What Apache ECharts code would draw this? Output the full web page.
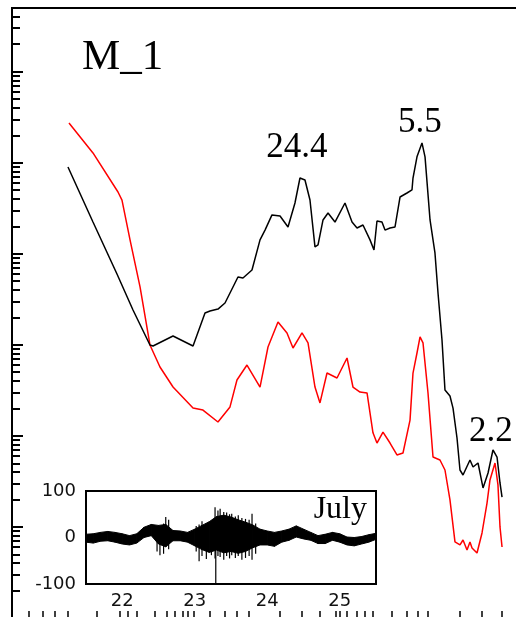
<!DOCTYPE html>
<html>
<head>
<meta charset="utf-8">
<script src="https://cdn.jsdelivr.net/npm/echarts@6/dist/echarts.min.js"></script>
<style>
  html, body { margin: 0; padding: 0; background: #fff; }
  #chart { width: 516px; height: 617px; }
</style>
</head>
<body>
<div id="chart"></div>
<script>
// ---- main panel: time in days (July), log-scaled amplitude ----
const blackDays = [21.272, 21.617, 21.948, 22.169, 22.403, 22.445, 22.721, 22.997, 23.162, 23.231,
  23.341, 23.438, 23.617, 23.686, 23.810, 23.921, 23.990, 24.086, 24.197, 24.307,
  24.403, 24.472, 24.541, 24.610, 24.679, 24.721, 24.790, 24.859, 24.955, 25.093,
  25.190, 25.259, 25.341, 25.438, 25.493, 25.534, 25.603, 25.645, 25.714, 25.783,
  25.852, 25.948, 26.017, 26.031, 26.086, 26.155, 26.197, 26.266, 26.334, 26.376,
  26.431, 26.472, 26.541, 26.583, 26.638, 26.679, 26.721, 26.817, 26.859, 26.928,
  26.997, 27.066, 27.134, 27.190, 27.231, 27.259];
const blackValues = [8970, 2230, 600, 241, 99.6, 97.1, 125, 97.1, 224, 235,
  247, 288, 556, 542, 663, 1420, 1820, 2670, 2600, 1970,
  3610, 6790, 6460, 3890, 1190, 1250, 2350, 2800, 2230, 3610,
  2230, 1920, 2070, 1420, 1100, 2290, 2230, 1820, 1920, 1970,
  4200, 4650, 5020, 6790, 11600, 16500, 11600, 2350, 1020, 371,
  113, 31.9, 27.4, 20.2, 9.48, 4.22, 3.72, 5.43, 4.55, 5.04,
  2.68, 3.91, 7.00, 5.86, 3.04, 2.13];

const redDays = [21.286, 21.617, 21.962, 22.017, 22.128, 22.266, 22.403, 22.541, 22.721, 22.997,
  23.134, 23.341, 23.507, 23.603, 23.741, 23.921, 24.031, 24.169, 24.293, 24.376,
  24.500, 24.583, 24.679, 24.748, 24.845, 24.983, 25.121, 25.203, 25.300, 25.397,
  25.479, 25.534, 25.617, 25.714, 25.810, 25.893, 25.990, 26.031, 26.086, 26.128,
  26.169, 26.238, 26.307, 26.403, 26.472, 26.541, 26.610, 26.679, 26.721, 26.776,
  26.817, 26.845, 26.914, 26.983, 27.052, 27.093, 27.162, 27.203, 27.231, 27.259];
const redValues = [27300, 12800, 4770, 3890, 1420, 432, 99.6, 57.1, 34.4, 20.2,
  19.2, 14.2, 20.8, 41.1, 60.0, 34.4, 94.6, 178, 135, 92.3,
  135, 105, 34.4, 23.0, 49.0, 43.2, 71.7, 34.4, 30.3, 29.6,
  10.8, 8.35, 11.0, 8.35, 6.17, 6.49, 14.9, 49.0, 81.3, 122,
  105, 29.6, 5.86, 5.43, 4.22, 1.98, 0.684, 0.634, 0.719, 0.558,
  0.684, 0.587, 0.517, 0.858, 1.83, 3.28, 5.04, 2.89, 1.00, 0.602];

// annotated peaks of the black curve
const peakLabels = ['24.4', '5.5', '2.2'];
const peakDays = [24.472, 26.155, 27.134];

// tick marks
const mainTickDays = [20.73, 20.93, 21.09, 21.27, 21.67, 21.99, 22.10, 22.22, 22.47, 22.64,
  22.75, 22.85, 22.93, 23.00, 23.23, 23.44, 23.60, 23.76, 24.20, 24.50,
  24.75, 24.96, 25.02, 25.12, 25.26, 25.37, 25.48, 25.74, 25.95, 26.10,
  26.24, 26.68, 26.98, 27.26];
const logDecades = [0.1, 1, 10, 100, 1000, 10000, 100000];
const logMultipliers = [2, 3, 4, 5, 6, 7, 8, 9];

// ---- inset: ground motion, July 21.5 - 25.5 ----
const insetTickDays = [21.75, 22, 22.25, 22.5, 22.75, 23, 23.25, 23.5, 23.75, 24, 24.25, 24.5, 24.75, 25, 25.25];
const insetLabelDays = [22, 23, 24, 25];
const insetYTicks = [-100, 0, 100];

const bandDays = [21.5, 21.6, 21.7, 21.8, 21.9, 22.0, 22.1, 22.2, 22.3, 22.4,
  22.5, 22.6, 22.7, 22.8, 22.9, 23.0, 23.1, 23.2, 23.3, 23.4,
  23.5, 23.6, 23.7, 23.8, 23.9, 24.0, 24.1, 24.2, 24.3, 24.4,
  24.5, 24.6, 24.7, 24.8, 24.9, 25.0, 25.1, 25.2, 25.3, 25.4, 25.5];
const bandHigh = [7, 8, 11, 13, 11, 8, 4, 8, 22, 28,
  26, 28, 15, 14, 11, 18, 26, 34, 45, 48,
  44, 38, 33, 27, 18, 14, 11, 14, 18, 25,
  18, 11, 4, 7, 11, 8, 1, 0, 2, 6, 9];
const bandLow = [-10, -12, -8, -7, -10, -14, -16, -12, 0, 4,
  -14, -20, -7, -7, -10, -18, -26, -32, -27, -33,
  -30, -34, -30, -22, -16, -16, -19, -10, -6, 1,
  -3, -6, -13, -13, -6, -10, -16, -18, -14, -10, -4];

const spikeDays = [22.48, 22.52, 22.57, 22.60, 22.64, 23.02, 23.06, 23.10, 23.16, 23.23,
  23.28, 23.29, 23.32, 23.35, 23.40, 23.44, 23.48, 23.51, 23.56, 23.60,
  23.65, 23.70, 23.75, 23.79, 23.84];
const spikeLow = [-30, -38, -35, -20, -25, -30, -51, -40, -46, -38,
  -45, -100, -40, -42, -48, -40, -45, -38, -44, -40,
  -48, -44, -40, -48, -35];
const spikeHigh = [20, 25, 30, 44, 38, 25, 28, 35, 30, 36,
  65, 40, 58, 62, 55, 54, 50, 51, 45, 48,
  42, 40, 38, 51, 30];

// ---- derived structures ----
const zip2 = (a, b) => a.map((v, i) => [v, b[i]]);
const zip3 = (a, b, c) => a.map((v, i) => [v, b[i], c[i]]);
const logMinor = [];
logDecades.forEach(d => logMultipliers.forEach(m => { if (m * d <= 5e5) logMinor.push(+(m * d).toPrecision(3)); }));

const peakMarks = peakLabels.map((txt, i) => {
  const idx = blackDays.indexOf(peakDays[i]);
  return { coord: [blackDays[idx], blackValues[idx]], value: txt };
});
const peakOffsets = [[-3, -30], [-2, -20], [-2, -18]];
peakMarks.forEach((m, i) => { m.label = { offset: peakOffsets[i] }; });

const serif = '"Liberation Serif", "Times New Roman", serif';
const sans = '"DejaVu Sans", sans-serif';

function bandItem(params, api) {
  const i = params.dataIndexInside;
  if (i >= params.dataInsideLength - 1) return null;
  const a = api.coord([api.value(0), api.value(2)]);
  const b = api.coord([api.value(0, i + 1), api.value(2, i + 1)]);
  const c = api.coord([api.value(0, i + 1), api.value(1, i + 1)]);
  const d = api.coord([api.value(0), api.value(1)]);
  return {
    type: 'polygon',
    shape: { points: [a, b, c, d] },
    style: { fill: '#000', stroke: '#000', lineWidth: 1 }
  };
}

function spikeItem(params, api) {
  const lo = api.coord([api.value(0), api.value(1)]);
  const hi = api.coord([api.value(0), api.value(2)]);
  return {
    type: 'line',
    shape: { x1: lo[0], y1: lo[1], x2: hi[0], y2: hi[1] },
    style: { stroke: '#000', lineWidth: 1.2 }
  };
}

const chart = echarts.init(document.getElementById('chart'), null, { renderer: 'canvas' });

chart.setOption({
  animation: false,
  backgroundColor: '#fff',
  grid: [
    { left: 12, top: 8, width: 507.5, height: 610, outerBoundsMode: 'none', show: true, borderColor: '#000', borderWidth: 2, backgroundColor: 'transparent' },
    { left: 86, top: 491, width: 290, height: 93, outerBoundsMode: 'none', show: true, borderColor: '#000', borderWidth: 2, backgroundColor: '#fff', z: 5 }
  ],
  xAxis: [
    {
      type: 'value', gridIndex: 0, min: 20.5, max: 27.5,
      axisLine: { show: false },
      axisTick: { show: true, inside: true, length: 7, customValues: mainTickDays, lineStyle: { color: '#000', width: 1.5 } },
      axisLabel: { show: false },
      splitLine: { show: false }
    },
    {
      type: 'value', gridIndex: 1, min: 21.5, max: 25.5,
      axisLine: { show: false },
      axisTick: { show: true, inside: true, length: 6, customValues: insetTickDays, lineStyle: { color: '#000', width: 1.5 } },
      axisLabel: { show: true, customValues: insetLabelDays, fontFamily: sans, fontSize: 18, color: '#111', margin: 8 },
      splitLine: { show: false }
    }
  ],
  yAxis: [
    {
      type: 'log', gridIndex: 0, position: 'left', min: 0.1, max: 5e5, logBase: 10,
      axisLine: { show: true, lineStyle: { color: '#000', width: 2 } },
      axisTick: { show: true, inside: true, length: 8, customValues: logMinor, lineStyle: { color: '#000', width: 2 } },
      axisLabel: { show: false },
      splitLine: { show: false }
    },
    {
      type: 'log', gridIndex: 0, position: 'left', min: 0.1, max: 5e5, logBase: 10,
      axisLine: { show: false },
      axisTick: { show: true, inside: true, length: 11, customValues: logDecades, lineStyle: { color: '#000', width: 2 } },
      axisLabel: { show: false },
      splitLine: { show: false }
    },
    {
      type: 'value', gridIndex: 1, min: -100, max: 100, interval: 100,
      axisLine: { show: false },
      axisTick: { show: false },
      axisLabel: { show: true, customValues: insetYTicks, fontFamily: sans, fontSize: 18, color: '#111', margin: 10 },
      splitLine: { show: false }
    }
  ],
  series: [
    {
      name: 'black', type: 'line', xAxisIndex: 0, yAxisIndex: 0,
      data: zip2(blackDays, blackValues),
      showSymbol: false, symbol: 'none',
      lineStyle: { color: '#000', width: 1.5 },
      z: 3,
      markPoint: {
        symbolSize: 0,
        data: peakMarks,
        label: {
          show: true, position: 'inside', formatter: p => p.value,
          fontFamily: serif, fontSize: 35, color: '#000',
          align: 'center', verticalAlign: 'middle'
        }
      }
    },
    {
      name: 'red', type: 'line', xAxisIndex: 0, yAxisIndex: 0,
      data: zip2(redDays, redValues),
      showSymbol: false, symbol: 'none',
      lineStyle: { color: '#ff0000', width: 1.5 },
      z: 2
    },
    {
      name: 'trace band', type: 'custom', xAxisIndex: 1, yAxisIndex: 2,
      data: zip3(bandDays, bandLow, bandHigh),
      encode: { x: 0, y: [1, 2] },
      renderItem: bandItem, clip: true, z: 6
    },
    {
      name: 'trace spikes', type: 'custom', xAxisIndex: 1, yAxisIndex: 2,
      data: zip3(spikeDays, spikeLow, spikeHigh),
      encode: { x: 0, y: [1, 2] },
      renderItem: spikeItem, clip: true, z: 6
    }
  ],
  graphic: [
    { type: 'text', x: 82, y: 58, z: 10, style: { text: 'M_1', font: '43px ' + serif, fill: '#000', verticalAlign: 'middle', align: 'left' } },
    { type: 'text', x: 367, y: 510, z: 10, style: { text: 'July', font: '32px ' + serif, fill: '#000', verticalAlign: 'middle', align: 'right' } }
  ]
});
</script>
</body>
</html>
